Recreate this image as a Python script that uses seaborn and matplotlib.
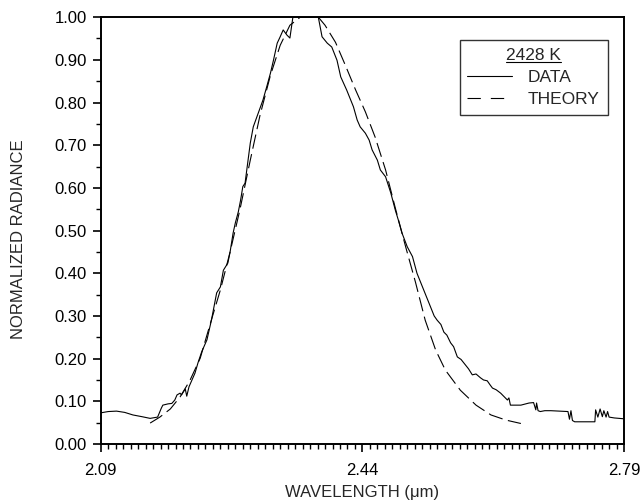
import numpy as np
import pandas as pd
import matplotlib
matplotlib.use("Agg")
import matplotlib.pyplot as plt
from matplotlib.ticker import MultipleLocator, FixedLocator, FormatStrFormatter
import seaborn as sns

# ── Measured spectrum (normalized radiance vs wavelength, um) ──
data_wl = [2.090, 2.100, 2.111, 2.122, 2.133, 2.145, 2.156, 2.166, 2.171, 2.173,
           2.180, 2.185, 2.189, 2.192, 2.196, 2.198, 2.203, 2.205, 2.208, 2.212,
           2.216, 2.220, 2.225, 2.232, 2.238, 2.245, 2.250, 2.254, 2.260, 2.263,
           2.267, 2.270, 2.274, 2.277, 2.280, 2.283, 2.290, 2.294, 2.299, 2.307,
           2.312, 2.317, 2.321, 2.326, 2.330, 2.334, 2.339, 2.343, 2.347, 2.381,
           2.386, 2.393, 2.399, 2.406, 2.411, 2.419, 2.428, 2.433, 2.437, 2.444,
           2.449, 2.453, 2.460, 2.464, 2.471, 2.478, 2.484, 2.488, 2.493, 2.500,
           2.507, 2.513, 2.522, 2.531, 2.536, 2.540, 2.545, 2.549, 2.553, 2.558,
           2.562, 2.567, 2.572, 2.578, 2.582, 2.587, 2.592, 2.598, 2.602, 2.607,
           2.611, 2.614, 2.619, 2.625, 2.629, 2.634, 2.636, 2.638, 2.645, 2.652,
           2.663, 2.669, 2.672, 2.673, 2.675, 2.678, 2.684, 2.692, 2.703, 2.715,
           2.717, 2.719, 2.721, 2.724, 2.727, 2.735, 2.744, 2.751, 2.752, 2.755,
           2.758, 2.761, 2.763, 2.766, 2.768, 2.770, 2.777, 2.790]
data_rad = [0.073, 0.076, 0.077, 0.074, 0.068, 0.064, 0.060, 0.063, 0.084, 0.091,
            0.094, 0.095, 0.103, 0.115, 0.119, 0.115, 0.129, 0.112, 0.134, 0.150,
            0.166, 0.190, 0.216, 0.244, 0.290, 0.354, 0.368, 0.407, 0.424, 0.450,
            0.494, 0.518, 0.544, 0.571, 0.603, 0.611, 0.705, 0.743, 0.767, 0.806,
            0.837, 0.869, 0.899, 0.939, 0.954, 0.970, 0.958, 0.951, 1.000, 1.000,
            0.954, 0.939, 0.930, 0.899, 0.860, 0.829, 0.790, 0.759, 0.743, 0.728,
            0.712, 0.689, 0.665, 0.642, 0.626, 0.588, 0.548, 0.525, 0.494, 0.462,
            0.439, 0.400, 0.361, 0.322, 0.300, 0.290, 0.280, 0.262, 0.255, 0.237,
            0.228, 0.204, 0.198, 0.185, 0.176, 0.162, 0.164, 0.155, 0.150, 0.148,
            0.138, 0.131, 0.127, 0.119, 0.112, 0.103, 0.108, 0.091, 0.091, 0.091,
            0.096, 0.097, 0.080, 0.096, 0.078, 0.076, 0.078, 0.078, 0.077, 0.076,
            0.058, 0.078, 0.055, 0.052, 0.052, 0.052, 0.052, 0.052, 0.080, 0.063,
            0.082, 0.064, 0.078, 0.063, 0.076, 0.063, 0.061, 0.059]

# ── Theoretical curve ──
theory_wl = [2.156, 2.169, 2.183, 2.196, 2.209, 2.223, 2.236, 2.250, 2.263, 2.276,
             2.290, 2.303, 2.317, 2.330, 2.343, 2.357, 2.370, 2.381, 2.390, 2.404,
             2.417, 2.431, 2.444, 2.457, 2.471, 2.484, 2.498, 2.511, 2.524, 2.538,
             2.551, 2.571, 2.592, 2.612, 2.632, 2.652]
theory_rad = [0.049, 0.063, 0.082, 0.110, 0.148, 0.201, 0.279, 0.361, 0.450, 0.548,
              0.665, 0.770, 0.864, 0.934, 0.981, 1.000, 1.000, 1.000, 0.981, 0.941,
              0.888, 0.829, 0.778, 0.719, 0.642, 0.553, 0.461, 0.379, 0.290, 0.220,
              0.173, 0.126, 0.091, 0.068, 0.056, 0.048]

df_data = pd.DataFrame({"wl": data_wl, "rad": data_rad})
df_theory = pd.DataFrame({"wl": theory_wl, "rad": theory_rad})

sns.set_style("ticks")
plt.rcParams["font.family"] = ["Liberation Sans", "DejaVu Sans"]

fig = plt.figure(figsize=(6.42, 5.01), dpi=100)
ax = fig.add_axes([0.157, 0.1138, 0.815, 0.852])

sns.lineplot(data=df_data, x="wl", y="rad", ax=ax, color="black",
             linewidth=0.8, sort=False, label="DATA")
sns.lineplot(data=df_theory, x="wl", y="rad", ax=ax, color="black",
             linewidth=0.8, sort=False, label="THEORY")
ax.lines[1].set_linestyle((0, (13, 5)))

ax.set_xlim(2.09, 2.79)
ax.set_ylim(0.0, 1.0)
ax.xaxis.set_major_locator(FixedLocator([2.09, 2.44, 2.79]))
ax.xaxis.set_minor_locator(MultipleLocator(0.01))
ax.yaxis.set_major_locator(MultipleLocator(0.1))
ax.yaxis.set_minor_locator(MultipleLocator(0.05))
ax.xaxis.set_major_formatter(FormatStrFormatter("%.2f"))
ax.yaxis.set_major_formatter(FormatStrFormatter("%.2f"))

ax.tick_params(axis="both", which="major", direction="out", length=6,
               width=1.2, labelsize=12, colors="black")
ax.tick_params(axis="both", which="minor", direction="out", length=3.5,
               width=1.0, colors="black")
ax.tick_params(axis="x", which="major", pad=8)
ax.tick_params(axis="y", which="major", pad=4)

for sp in ax.spines.values():
    sp.set_visible(True)
    sp.set_linewidth(1.4)
    sp.set_color("black")

ax.set_xlabel("WAVELENGTH (\u03bcm)", fontsize=12, labelpad=5)
ax.set_ylabel("NORMALIZED RADIANCE", fontsize=12)
ax.yaxis.set_label_coords(-0.143, 0.48)

# legend: underlined temperature title, then the two line styles
leg = ax.legend(loc="upper right", bbox_to_anchor=(0.969, 0.946),
                borderaxespad=0, title="2428 K", fontsize=12.5,
                title_fontsize=12.5, fancybox=False, frameon=True,
                handlelength=2.6, handletextpad=0.9, labelspacing=0.4,
                borderpad=0.45)
leg.get_frame().set_edgecolor("black")
leg.get_frame().set_linewidth(1.0)
leg.legend_handles[1].set_linestyle((0, (12, 9)))

fig.canvas.draw()
bb = leg.get_title().get_window_extent().transformed(fig.transFigure.inverted())
fig.add_artist(plt.Line2D([bb.x0, bb.x1], [bb.y0 + 0.002, bb.y0 + 0.002],
                          color="black", linewidth=0.8,
                          transform=fig.transFigure))

fig.savefig("out.png", dpi=100)
